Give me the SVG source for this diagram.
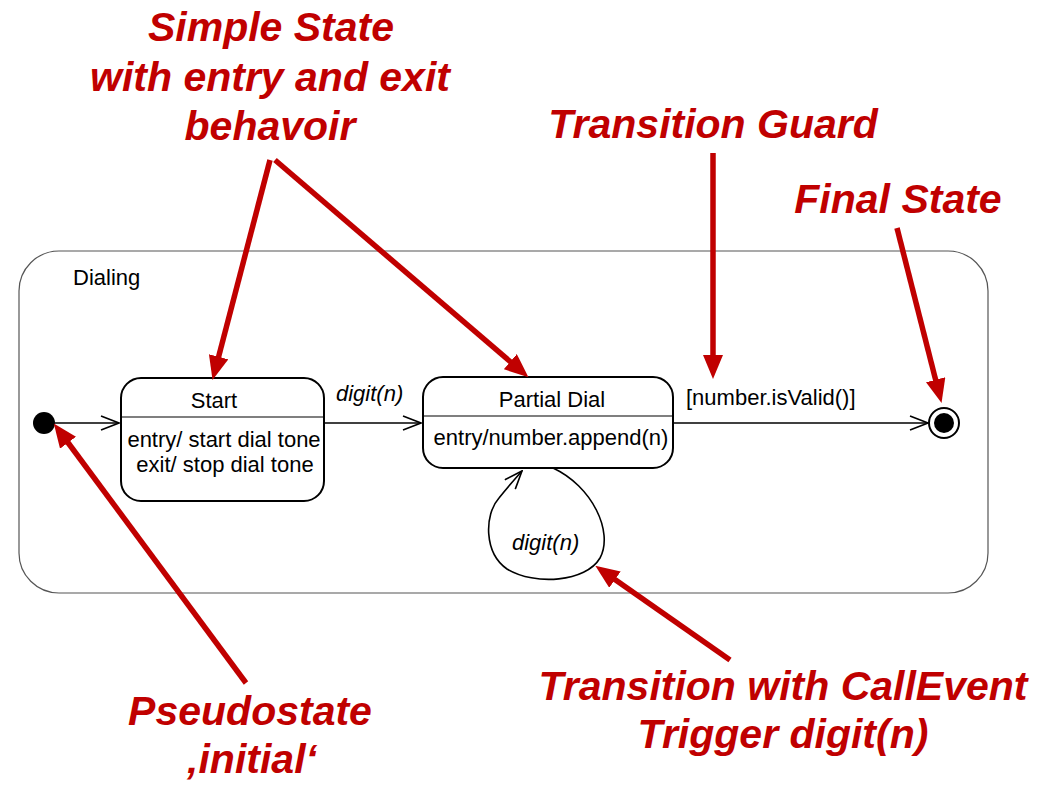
<svg xmlns="http://www.w3.org/2000/svg" width="1049" height="800" viewBox="0 0 1049 800">
<defs>
<style>
.lbl{font-family:"Liberation Sans",Arial,sans-serif;font-size:22px;fill:#000}
.it{font-style:italic}
.red{font-family:"Liberation Sans",Arial,sans-serif;font-size:41px;font-weight:bold;font-style:italic;fill:#C00000;text-anchor:middle}
.box{fill:#fff;stroke:#000;stroke-width:2}
.div{stroke:#000;stroke-width:1.2}
.conn{fill:none;stroke:#000;stroke-width:1.6}
.ann{fill:none;stroke:#C00000;stroke-width:5.5}
</style>
<marker id="open" viewBox="0 0 20 16" refX="19" refY="8" markerWidth="20" markerHeight="16" markerUnits="userSpaceOnUse" orient="auto">
<path d="M1 1 L19 8 L1 15" fill="none" stroke="#000" stroke-width="1.6"/>
</marker>
<marker id="redhead" viewBox="0 0 24 20" refX="4" refY="10" markerWidth="24" markerHeight="20" markerUnits="userSpaceOnUse" orient="auto">
<path d="M0 0 L24 10 L0 20 Z" fill="#C00000"/>
</marker>
</defs>
<rect width="1049" height="800" fill="#fff"/>

<g id="dialing">
<rect x="19" y="251" width="969" height="342" rx="40" ry="40" fill="none" stroke="#555" stroke-width="1.2"/>
<text class="lbl" x="73" y="285">Dialing</text>
</g>

<g id="initial">
<circle cx="44" cy="423" r="11" fill="#000"/>
</g>

<g id="start">
<rect class="box" x="121" y="378" width="203" height="123" rx="20" ry="20"/>
<line class="div" x1="121" y1="417" x2="324" y2="417"/>
<text class="lbl" x="214" y="408" text-anchor="middle">Start</text>
<text class="lbl" x="224" y="447" text-anchor="middle">entry/ start dial tone</text>
<text class="lbl" x="225" y="472" text-anchor="middle">exit/ stop dial tone</text>
</g>

<g id="partial">
<rect class="box" x="423" y="377" width="250" height="91" rx="20" ry="20"/>
<line class="div" x1="423" y1="416" x2="673" y2="416"/>
<text class="lbl" x="552" y="407" text-anchor="middle">Partial Dial</text>
<text class="lbl" x="551" y="445" text-anchor="middle">entry/number.append(n)</text>
</g>

<g id="final">
<circle cx="944" cy="423" r="15" fill="#fff" stroke="#000" stroke-width="2"/>
<circle cx="944" cy="423" r="10" fill="#000"/>
</g>

<g id="connectors">
<line class="conn" x1="55" y1="423" x2="119" y2="423" marker-end="url(#open)"/>
<line class="conn" x1="324" y1="423" x2="421" y2="423" marker-end="url(#open)"/>
<text class="lbl it" x="336" y="401">digit(n)</text>
<line class="conn" x1="673" y1="423" x2="928" y2="423" marker-end="url(#open)"/>
<text class="lbl" x="686" y="405">[number.isValid()]</text>
<path class="conn" d="M553 468 C592 486 614 532 600 558 C586 582 535 586 507 569 C484 553 484 515 499 498 C507 488 514 480 522 471" marker-end="url(#open)"/>
<text class="lbl it" x="512" y="550">digit(n)</text>
</g>

<g id="annotations">
<text class="red" x="271" y="41">Simple State</text>
<text class="red" x="270" y="91">with entry and exit</text>
<text class="red" x="270" y="140">behavoir</text>
<line class="ann" x1="270" y1="160" x2="217.6" y2="360.6" marker-end="url(#redhead)"/>
<line class="ann" x1="275" y1="160" x2="513.3" y2="364.3" marker-end="url(#redhead)"/>

<text class="red" x="713" y="138">Transition Guard</text>
<line class="ann" x1="713" y1="153" x2="713" y2="359" marker-end="url(#redhead)"/>

<text class="red" x="898" y="213">Final State</text>
<line class="ann" x1="897" y1="228" x2="936.6" y2="383.6" marker-end="url(#redhead)"/>

<text class="red" x="250" y="725">Pseudostate</text>
<text class="red" x="252" y="773">‚initial‘</text>
<line class="ann" x1="246" y1="683" x2="65.7" y2="439.5" marker-end="url(#redhead)"/>

<text class="red" x="783" y="700">Transition with CallEvent</text>
<text class="red" x="783" y="748">Trigger digit(n)</text>
<line class="ann" x1="730" y1="660" x2="611.7" y2="577.3" marker-end="url(#redhead)"/>
</g>
</svg>
